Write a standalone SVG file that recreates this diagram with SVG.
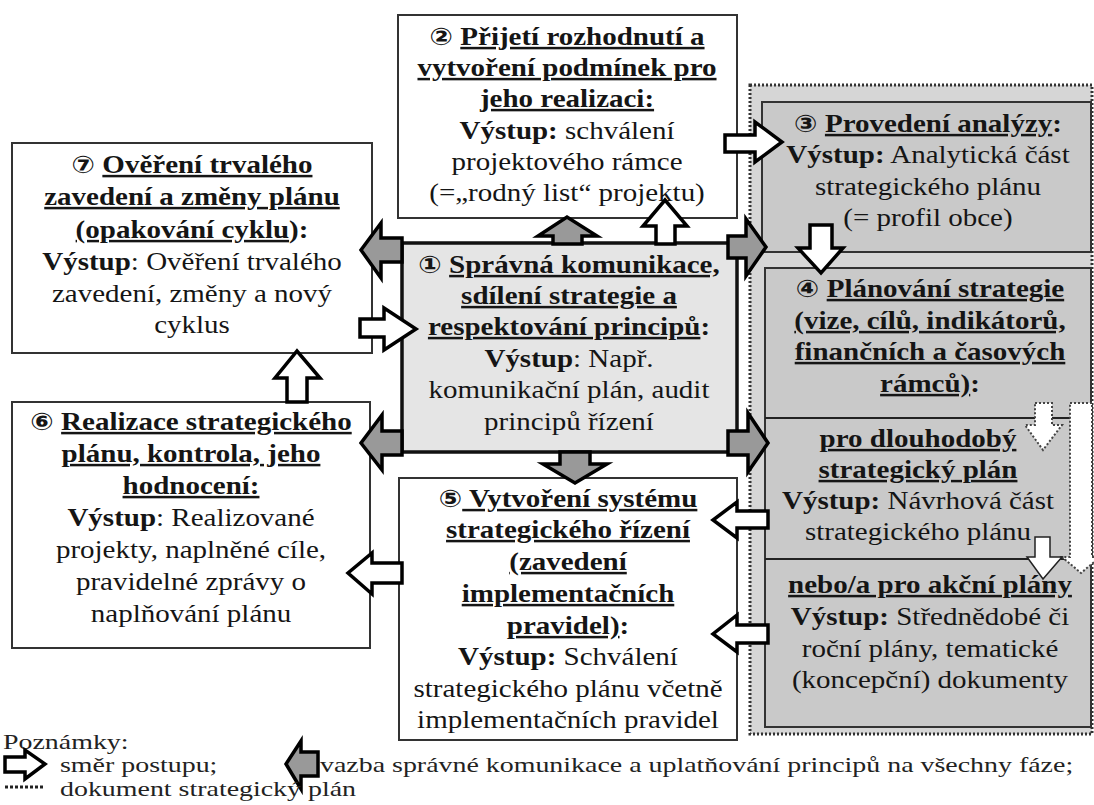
<svg xmlns="http://www.w3.org/2000/svg" width="1094" height="805" viewBox="0 0 1094 805">
<style>
.t{font-size:25px;fill:#151515;text-anchor:middle}
.l{font-size:21px;fill:#222}
.b{font-weight:bold}
.u{font-weight:bold;text-decoration:underline}
.n{font-weight:bold;font-size:24px}
.box{fill:#fff;stroke:#333;stroke-width:2}
.gbox{fill:#c9c9c9;stroke:#333;stroke-width:2}
.w{fill:#fff;stroke:#000;stroke-width:3.5;stroke-linejoin:miter}
.g{fill:#999;stroke:#000;stroke-width:3.5;stroke-linejoin:miter}
.dw{fill:#fff;stroke:#444;stroke-width:2;stroke-dasharray:2 2}
.sw{fill:#fff;stroke:#222;stroke-width:1.5}
</style>
<rect width="1094" height="805" fill="#fff"/>
<g id="panel">
<rect x="750" y="85" width="342" height="649" fill="#d6d6d6" stroke="#333" stroke-width="3" stroke-dasharray="2 2"/>
</g>
<g font-family="Liberation Serif, Times New Roman, serif">
<g id="node3">
<rect class="gbox" x="762" y="102" width="329" height="150"/>
<g transform="translate(928 0) scale(1.16 1)">
<text class="t" x="0" y="132"><tspan class="n" font-family="DejaVu Sans, sans-serif">③</tspan> <tspan class="u">Provedení analýzy</tspan><tspan class="b">:</tspan></text>
<text class="t" x="0" y="163"><tspan class="b">Výstup:</tspan> Analytická část</text>
<text class="t" x="0" y="195">strategického plánu</text>
<text class="t" x="0" y="226">(= profil obce)</text>
</g>
</g>
<g id="node4">
<rect class="gbox" x="765" y="268" width="326" height="459"/>
<line x1="765" y1="418" x2="1070" y2="418" stroke="#222" stroke-width="2"/>
<line x1="765" y1="559" x2="1070" y2="559" stroke="#222" stroke-width="2"/>
<g transform="translate(930 0) scale(1.16 1)">
<text class="t" x="0" y="297"><tspan class="n" font-family="DejaVu Sans, sans-serif">④</tspan> <tspan class="u">Plánování strategie</tspan></text>
<text class="t" x="0" y="329"><tspan class="u">(vize, cílů, indikátorů,</tspan></text>
<text class="t" x="0" y="360"><tspan class="u">finančních a časových</tspan></text>
<text class="t" x="0" y="392"><tspan class="u">rámců)</tspan><tspan class="b">:</tspan></text>
</g>
<g transform="translate(918 0) scale(1.16 1)">
<text class="t" x="0" y="447"><tspan class="u">pro dlouhodobý</tspan></text>
<text class="t" x="0" y="478"><tspan class="u">strategický plán</tspan></text>
<text class="t" x="0" y="509"><tspan class="b">Výstup:</tspan> Návrhová část</text>
<text class="t" x="0" y="540">strategického plánu</text>
</g>
<g transform="translate(930 0) scale(1.16 1)">
<text class="t" x="0" y="593"><tspan class="u">nebo/a pro akční plány</tspan></text>
<text class="t" x="0" y="625"><tspan class="b">Výstup:</tspan> Střednědobé či</text>
<text class="t" x="0" y="657">roční plány, tematické</text>
<text class="t" x="0" y="688">(koncepční) dokumenty</text>
</g>
</g>
<g id="node2">
<rect class="box" x="398" y="15" width="339" height="203"/>
<g transform="translate(567 0) scale(1.16 1)">
<text class="t" x="0" y="45"><tspan class="n" font-family="DejaVu Sans, sans-serif">②</tspan> <tspan class="u">Přijetí rozhodnutí a</tspan></text>
<text class="t" x="0" y="76"><tspan class="u">vytvoření podmínek pro</tspan></text>
<text class="t" x="0" y="107"><tspan class="u">jeho realizaci:</tspan></text>
<text class="t" x="0" y="139"><tspan class="b">Výstup:</tspan> schválení</text>
<text class="t" x="0" y="170">projektového rámce</text>
<text class="t" x="0" y="201">(=„rodný list“ projektu)</text>
</g>
</g>
<g id="node7">
<rect class="box" x="12" y="143" width="360" height="210"/>
<g transform="translate(192 0) scale(1.16 1)">
<text class="t" x="0" y="173"><tspan class="n" font-family="DejaVu Sans, sans-serif">⑦</tspan> <tspan class="u">Ověření trvalého</tspan></text>
<text class="t" x="0" y="205"><tspan class="u">zavedení a změny plánu</tspan></text>
<text class="t" x="0" y="238"><tspan class="u">(opakování cyklu</tspan><tspan class="b">):</tspan></text>
<text class="t" x="0" y="270"><tspan class="b">Výstup</tspan>: Ověření trvalého</text>
<text class="t" x="0" y="302">zavedení, změny a nový</text>
<text class="t" x="0" y="333">cyklus</text>
</g>
</g>
<g id="node1">
<rect x="402" y="243" width="335" height="209" fill="#e5e5e5" stroke="#111" stroke-width="3.5"/>
<g transform="translate(569 0) scale(1.16 1)">
<text class="t" x="0" y="273"><tspan class="n" font-family="DejaVu Sans, sans-serif">①</tspan> <tspan class="u">Správná komunikace,</tspan></text>
<text class="t" x="0" y="304"><tspan class="u">sdílení strategie a</tspan></text>
<text class="t" x="0" y="335"><tspan class="u">respektování principů</tspan><tspan class="b">:</tspan></text>
<text class="t" x="0" y="367"><tspan class="b">Výstup</tspan>: Např.</text>
<text class="t" x="0" y="398">komunikační plán, audit</text>
<text class="t" x="0" y="430">principů řízení</text>
</g>
</g>
<g id="node6">
<rect class="box" x="12" y="402" width="358" height="246"/>
<g transform="translate(191 0) scale(1.16 1)">
<text class="t" x="0" y="430"><tspan class="n" font-family="DejaVu Sans, sans-serif">⑥</tspan> <tspan class="u">Realizace strategického</tspan></text>
<text class="t" x="0" y="462"><tspan class="u">plánu, kontrola, jeho</tspan></text>
<text class="t" x="0" y="494"><tspan class="u">hodnocení:</tspan></text>
<text class="t" x="0" y="526"><tspan class="b">Výstup</tspan>: Realizované</text>
<text class="t" x="0" y="558">projekty, naplněné cíle,</text>
<text class="t" x="0" y="590">pravidelné zprávy o</text>
<text class="t" x="0" y="622">naplňování plánu</text>
</g>
</g>
<g id="node5">
<rect class="box" x="399" y="478" width="338" height="262"/>
<g transform="translate(568 0) scale(1.16 1)">
<text class="t" x="0" y="507"><tspan class="n" font-family="DejaVu Sans, sans-serif">⑤</tspan><tspan class="u"> Vytvoření systému</tspan></text>
<text class="t" x="0" y="538"><tspan class="u">strategického řízení</tspan></text>
<text class="t" x="0" y="570"><tspan class="u">(zavedení</tspan></text>
<text class="t" x="0" y="602"><tspan class="u">implementačních</tspan></text>
<text class="t" x="0" y="634"><tspan class="u">pravidel)</tspan><tspan class="b">:</tspan></text>
<text class="t" x="0" y="665"><tspan class="b">Výstup:</tspan> Schválení</text>
<text class="t" x="0" y="697">strategického plánu včetně</text>
<text class="t" x="0" y="728">implementačních pravidel</text>
</g>
</g>
</g>
<g id="connectors">
<path class="w" d="M725,135 H755 V122 L782,142 L755,162 V152 H725 Z"/>
<path class="g" d="M553,244 V236 H538 L567,217 L597,236 H582 V244 Z"/>
<path class="w" d="M656,244 V226 H643 L665,200 L687,226 H675 V244 Z"/>
<path class="g" d="M728,236 H746 V219 L766,247 L746,276 V258 H728 Z"/>
<path class="g" d="M402,238 H381 V223 L361,250 L381,278 V262 H402 Z"/>
<path class="w" d="M360,319 H384 V308 L416,329 L384,350 V337 H360 Z"/>
<path class="w" d="M287,402 V378 H275 L297,351 L320,378 H307 V402 Z"/>
<path class="g" d="M402,431 H382 V415 L361,443 L382,470 V455 H402 Z"/>
<path class="g" d="M560,452 H590 V464 H607 L575,483 L543,464 H560 Z"/>
<path class="g" d="M728,431 H748 V413 L768,443 L748,472 V455 H728 Z"/>
<path class="w" d="M810,225 H832 V248 H843 L821,273 L798,248 H810 Z"/>
<path class="w" d="M768,511 H737 V502 L713,520 L737,538 V528 H768 Z"/>
<path class="w" d="M768,625 H737 V615 L713,634 L737,652 V643 H768 Z"/>
<path class="w" d="M402,563 H372 V553 L348,573 L372,594 V583 H402 Z"/>
<path class="dw" d="M1035,403 H1052 V425 H1062 L1043,450 L1025,425 H1035 Z"/>
<path class="dw" d="M1070,403 H1092 V557 H1100 L1081,573 L1062,557 H1070 Z"/>
<path class="sw" d="M1035,537 H1050 V557 H1062 L1043,579 L1027,557 H1035 Z"/>
</g>
<g id="legend" font-family="Liberation Serif, Times New Roman, serif">
<text class="l" transform="translate(3 0) scale(1.33 1)" x="0" y="749">Poznámky:</text>
<path class="w" d="M5,757 H25 V750 L45,764 L25,779 V772 H5 Z"/>
<text class="l" transform="translate(60 0) scale(1.33 1)" x="0" y="772">směr postupu;</text>
<path class="g" d="M318,752 H301 V741 L286,764 L301,789 V776 H318 Z"/>
<text class="l" transform="translate(320 0) scale(1.33 1)" x="0" y="772">vazba správné komunikace a uplatňování principů na všechny fáze;</text>
<line x1="5" y1="787" x2="45" y2="787" stroke="#222" stroke-width="3" stroke-dasharray="3 2"/>
<text class="l" transform="translate(60 0) scale(1.33 1)" x="0" y="796">dokument strategický plán</text>
</g>
</svg>
